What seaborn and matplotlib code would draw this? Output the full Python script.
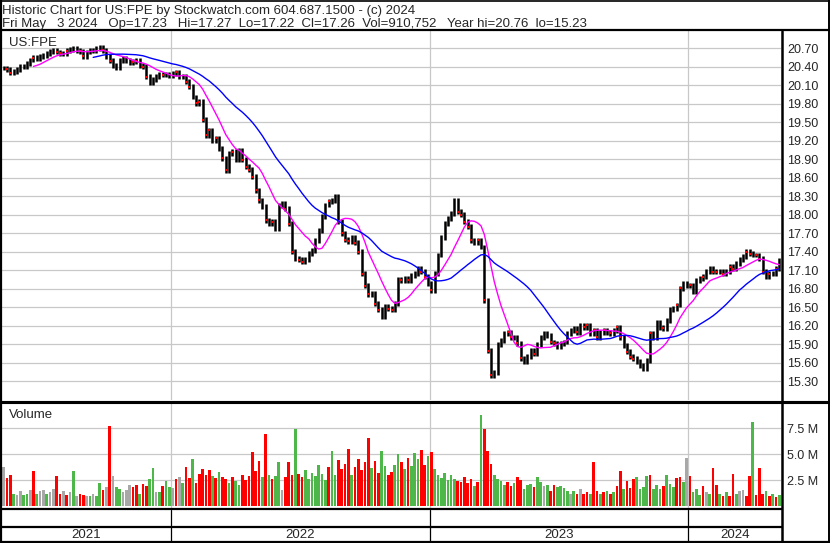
import numpy as np
import pandas as pd
import matplotlib
matplotlib.use('Agg')
import matplotlib.pyplot as plt
from matplotlib.lines import Line2D
import seaborn as sns

# ── data (one sample ≈ 3 trading days) ─────────────────────────────────────────
closes = [
    20.38, 20.36, 20.30, 20.33, 20.36, 20.40, 20.41, 20.46, 20.51, 20.55,
    20.54, 20.56, 20.58, 20.62, 20.65, 20.67, 20.64, 20.62, 20.62, 20.66,
    20.68, 20.69, 20.67, 20.65, 20.57, 20.64, 20.67, 20.67, 20.69, 20.72,
    20.67, 20.57, 20.50, 20.42, 20.38, 20.50, 20.54, 20.50, 20.47, 20.48,
    20.50, 20.42, 20.40, 20.24, 20.14, 20.19, 20.25, 20.27, 20.27, 20.28,
    20.26, 20.29, 20.31, 20.24, 20.24, 20.16, 20.08, 19.91, 19.81, 19.83,
    19.54, 19.29, 19.37, 19.21, 19.24, 19.08, 18.92, 18.72, 18.99, 19.02,
    18.89, 19.05, 18.89, 18.78, 18.73, 18.62, 18.40, 18.24, 18.13, 17.91,
    17.86, 17.89, 17.78, 18.15, 18.19, 18.10, 17.86, 17.40, 17.29, 17.27,
    17.24, 17.27, 17.37, 17.43, 17.59, 17.75, 17.97, 18.16, 18.22, 18.24,
    18.30, 17.90, 17.70, 17.60, 17.57, 17.64, 17.55, 17.40, 17.05, 16.85,
    16.71, 16.73, 16.56, 16.46, 16.35, 16.51, 16.48, 16.46, 16.56, 16.96,
    16.94, 16.97, 16.94, 17.02, 17.05, 17.13, 17.08, 17.00, 16.89, 16.78,
    17.05, 17.35, 17.64, 17.86, 17.94, 18.02, 18.24, 18.05, 18.00, 17.89,
    17.81, 17.59, 17.56, 17.59, 17.48, 16.62, 15.80, 15.40, 15.45, 15.90,
    15.97, 16.08, 16.10, 16.02, 16.02, 15.92, 15.68, 15.62, 15.70, 15.81,
    15.75, 15.90, 16.02, 16.08, 16.05, 15.94, 15.92, 15.86, 15.92, 15.94,
    16.08, 16.13, 16.16, 16.10, 16.21, 16.18, 16.21, 16.08, 16.13, 16.02,
    16.10, 16.13, 16.10, 16.08, 16.13, 16.18, 16.02, 15.89, 15.78, 15.70,
    15.67, 15.62, 15.56, 15.51, 15.64, 16.08, 16.02, 16.26, 16.18, 16.16,
    16.29, 16.46, 16.48, 16.54, 16.81, 16.89, 16.86, 16.86, 16.75, 16.94,
    16.97, 17.00, 17.08, 17.13, 17.08, 17.08, 17.08, 17.05, 17.08, 17.16,
    17.13, 17.21, 17.27, 17.32, 17.40, 17.37, 17.35, 17.35, 17.29, 17.08,
    17.00, 17.05, 17.05, 17.13, 17.26,
]

# volume in millions of shares
volumes = [
    3.8, 2.7, 3.0, 1.2, 1.1, 1.4, 1.1, 1.2, 1.5, 3.4,
    1.2, 1.4, 1.5, 1.2, 1.3, 1.6, 2.9, 1.2, 1.4, 1.1,
    1.3, 3.4, 1.0, 1.2, 1.1, 1.0, 1.0, 1.2, 1.0, 2.2,
    1.5, 1.8, 7.7, 2.9, 1.8, 1.6, 1.3, 1.5, 2.0, 1.8,
    2.0, 1.2, 2.1, 1.9, 2.6, 3.7, 1.3, 1.3, 1.9, 2.4,
    1.8, 1.7, 2.6, 2.8, 2.2, 3.8, 2.7, 4.5, 2.2, 3.1,
    3.6, 3.0, 3.5, 2.9, 2.7, 3.3, 2.8, 2.6, 2.2, 2.8,
    2.4, 2.0, 3.0, 2.5, 2.9, 5.2, 3.4, 4.3, 2.8, 7.0,
    3.0, 2.6, 2.9, 4.2, 1.5, 2.8, 4.2, 3.0, 7.4, 3.1,
    2.8, 3.5, 2.6, 3.2, 2.9, 4.0, 3.1, 2.5, 3.8, 5.3,
    3.0, 4.4, 3.6, 4.1, 5.5, 3.0, 3.8, 4.5, 3.5, 4.2,
    6.6, 3.7, 4.3, 3.2, 5.3, 3.9, 3.0, 3.3, 4.0, 5.0,
    4.2, 3.6, 4.6, 3.9, 5.1, 4.5, 5.4, 4.0, 4.8, 5.2,
    3.6, 3.0, 2.7, 3.2, 2.5, 3.0, 2.6, 2.4, 2.3, 2.8,
    2.2, 2.6, 1.9, 2.3, 8.8, 7.4, 5.3, 4.1, 3.0, 2.6,
    2.4, 2.0, 2.3, 1.9, 2.2, 2.8, 2.5, 1.6, 2.0, 2.1,
    1.8, 2.8, 2.3, 1.9, 2.0, 1.4, 2.0, 1.8, 1.9, 1.7,
    1.4, 1.2, 1.4, 1.2, 1.6, 1.2, 1.3, 1.2, 4.2, 1.4,
    1.2, 1.3, 1.4, 1.2, 1.3, 1.9, 3.4, 1.6, 2.4, 1.7,
    2.6, 2.8, 1.6, 1.8, 2.9, 3.0, 1.6, 2.0, 1.6, 1.9,
    3.0, 2.1, 1.8, 2.7, 2.8, 2.3, 4.6, 2.9, 1.3, 1.6,
    1.1, 1.9, 1.3, 1.2, 3.7, 2.0, 1.2, 1.0, 1.3, 1.0,
    3.1, 1.2, 1.4, 1.5, 1.0, 2.9, 8.1, 1.1, 3.7, 1.2,
    1.4, 1.0, 1.2, 0.9, 1.1,
]

# u = up day, d = down day, f = unchanged
moves = list(
    "fdduffuufd" "uffuffddfd" "fufddfufuu" "dfdfuufffd" "dudduufudu"
    "ufdfuddudd" "dddududdud" "uuddddddud" "uduufdddud" "duuuuuuudu"
    "uddddudddd" "dudduudduu" "duduuuddud" "uuuuuuuddd" "ddududdduu"
    "uuddudduuu" "duufudduuu" "ufudfddudd" "udududdudd" "duuuuduuud"
    "uuuddufduu" "udfuddudud" "duffdduddd" "ududu"
)

year_labels = ['2021', '2022', '2023', '2024']
year_start = [51, 129, 207]          # first sample of 2022, 2023, 2024
price_ticks = [15.30, 15.60, 15.90, 16.20, 16.50, 16.80, 17.10, 17.40, 17.70,
               18.00, 18.30, 18.60, 18.90, 19.20, 19.50, 19.80, 20.10, 20.40, 20.70]
vol_ticks = [2.5, 5.0, 7.5]
vol_tick_labels = ['2.5 M', '5.0 M', '7.5 M']
header_1 = "Historic Chart for US:FPE by Stockwatch.com 604.687.1500 - (c) 2024"
header_2 = ("Fri May   3 2024   Op=17.23   Hi=17.27  Lo=17.22  Cl=17.26  "
            "Vol=910,752   Year hi=20.76  lo=15.23")

df = pd.DataFrame({'i': np.arange(len(closes)), 'close': closes,
                   'vol': volumes, 'move': moves})
prev = df['close'].shift(1).fillna(df['close'])
df['lo'] = np.minimum(prev, df['close']) - 0.04
df['hi'] = np.maximum(prev, df['close']) + 0.04
df['ma_s'] = df['close'].rolling(10).mean()
df['ma_l'] = df['close'].rolling(28).mean()

# ── figure / layout in pixels ──────────────────────────────────────────────────
sns.set_style('white')
plt.rcParams['font.family'] = ['Liberation Sans', 'DejaVu Sans']
W, H = 830, 543
fig = plt.figure(figsize=(W / 100, H / 100), dpi=100, facecolor='white')


def box(x0, y0, x1, y1):
    return [x0 / W, 1 - y1 / H, (x1 - x0) / W, (y1 - y0) / H]


def hline(y, x0, x1, lw=1.0, color='black'):
    fig.add_artist(Line2D([x0 / W, x1 / W], [1 - y / H, 1 - y / H],
                          transform=fig.transFigure, color=color, lw=lw))


def vline(x, y0, y1, lw=1.0, color='black'):
    fig.add_artist(Line2D([x / W, x / W], [1 - y0 / H, 1 - y1 / H],
                          transform=fig.transFigure, color=color, lw=lw))


XL = (-0.5, len(closes) - 0.5)
grid_c = '#C8C8C8'
bounds = [s - 0.5 for s in year_start]

# ── price panel ────────────────────────────────────────────────────────────────
ax = fig.add_axes(box(2, 31, 781, 400))
for y in price_ticks:
    ax.axhline(y, color=grid_c, lw=0.9, zorder=0)
for b in bounds:
    ax.axvline(b, color=grid_c, lw=0.9, zorder=0)
ax.vlines(df['i'], df['lo'], df['hi'], color='black', lw=1.8, zorder=2)
down = df[df['move'] == 'd']
sns.scatterplot(x=down['i'], y=down['close'], color='red', marker='s', s=3,
                linewidth=0, ax=ax, zorder=3)
sns.lineplot(x=df['i'], y=df['ma_s'], color='#FF00FF', lw=1.0, ax=ax, zorder=4)
sns.lineplot(x=df['i'], y=df['ma_l'], color='#0000FF', lw=1.0, ax=ax, zorder=4)
ax.set_xlim(*XL)
ax.set_ylim(15.00, 20.98)
ax.set_xticks([])
ax.yaxis.tick_right()
ax.set_yticks(price_ticks)
ax.set_yticklabels([f'{t:.2f}' for t in price_ticks])
ax.tick_params(axis='y', length=0, pad=4.5, labelsize=9)
ax.set_xlabel('')
ax.set_ylabel('')
for s in ax.spines.values():
    s.set_visible(False)
ax.annotate('US:FPE', xy=(0, 1), xycoords='axes fraction', xytext=(7, -15),
            textcoords='offset pixels', fontsize=9.5, va='baseline')

# ── volume panel ───────────────────────────────────────────────────────────────
axv = fig.add_axes(box(2, 402, 781, 508))
for y in vol_ticks:
    axv.axhline(y, color=grid_c, lw=0.9, zorder=0)
for b in bounds:
    axv.axvline(b, color=grid_c, lw=0.9, zorder=0)
sns.barplot(data=df, x='i', y='vol', hue='move', native_scale=True, width=0.8,
            palette={'u': '#4DB849', 'd': '#FF0000', 'f': '#A8A8A8'},
            saturation=1, errorbar=None, legend=False, linewidth=0, ax=axv,
            zorder=2)
axv.set_xlim(*XL)
axv.set_ylim(-0.2, 10.05)
axv.set_xticks([])
axv.yaxis.tick_right()
axv.set_yticks(vol_ticks)
axv.set_yticklabels(vol_tick_labels)
axv.tick_params(axis='y', length=0, pad=4.5, labelsize=9)
axv.set_xlabel('')
axv.set_ylabel('')
for s in axv.spines.values():
    s.set_visible(False)
axv.annotate('Volume', xy=(0, 1), xycoords='axes fraction', xytext=(7, -16),
             textcoords='offset pixels', fontsize=9.5, va='baseline')

# ── year row ───────────────────────────────────────────────────────────────────
axy = fig.add_axes(box(2, 510, 781, 541))
axy.set_xlim(*XL)
axy.set_ylim(0, 1)
axy.axis('off')
for b in bounds:
    axy.axvline(b, color='black', lw=0.9)
edges = [XL[0]] + bounds + [XL[1]]
for k, lab in enumerate(year_labels):
    axy.text((edges[k] + edges[k + 1]) / 2, 0.09, lab, ha='center',
             va='baseline', fontsize=9.5)

# ── frame lines ────────────────────────────────────────────────────────────────
hline(0.5, 0, 829, lw=1.2)
hline(30, 0, 829, lw=1.6)
hline(400.5, 0, 829, lw=0.8)
hline(402.5, 0, 829, lw=1.5)
hline(509, 0, 782, lw=1.6)
hline(526.5, 0, 782, lw=1.6)
hline(541.5, 0, 829, lw=1.6)
vline(1, 0, 543, lw=1.6)
vline(828.5, 0, 543, lw=1.4)
vline(782, 31, 542, lw=1.8)

fig.text(2 / W, 1 - 14 / H, header_1, fontsize=9.5, va='baseline')
fig.text(2 / W, 1 - 27.5 / H, header_2, fontsize=9.5, va='baseline')

fig.savefig('out.png', dpi=100)
